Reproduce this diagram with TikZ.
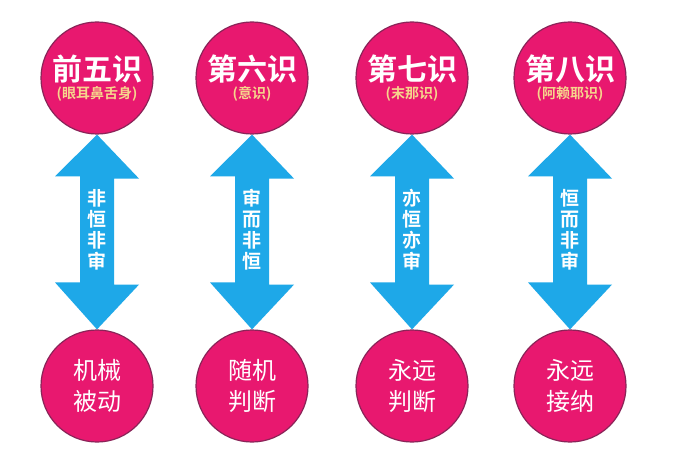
\documentclass[tikz,border=0pt]{standalone}
\usepackage{fontspec}
\newfontfamily\cjk{Noto Sans CJK SC}
\newfontfamily\cjkb{Noto Sans CJK SC Bold}
\definecolor{rosa}{HTML}{E8186F}
\definecolor{borda}{HTML}{8A2458}
\definecolor{azul}{HTML}{1EA8E8}
\definecolor{amarelo}{HTML}{F6D58C}
\tikzset{
  circulo/.style={circle, fill=rosa, draw=borda, line width=1.2pt, minimum size=112pt, inner sep=0pt, align=center, text=white},
  seta/.style={fill=azul, draw=none},
  rotulo/.style={text=white, font=\cjkb\fontsize{19}{21}\selectfont, align=center, inner sep=0pt}
}
\begin{document}
\begin{tikzpicture}[x=1pt,y=-1pt]
    \useasboundingbox[fill=white] (0,0) rectangle (700,470);
    % Circulos de cima e de baixo
    \foreach \x/\nome/\sub/\baixo/\meio [count=\i] in
      {97/前五识/眼耳鼻舌身/机械\\被动/非\\恒\\非\\审,
       252/第六识/意识/随机\\判断/审\\而\\非\\恒,
       412/第七识/末那识/永远\\判断/亦\\恒\\亦\\审,
       570/第八识/阿赖耶识/永远\\接纳/恒\\而\\非\\审} {
        \node[circulo] (c\i) at (\x,78) {{\cjkb\fontsize{30}{32}\selectfont \nome}\\[2pt]
            {\cjkb\fontsize{14}{16}\selectfont\color{amarelo}(\sub)}};
        \node[circulo, font=\cjk\fontsize{24}{31}\selectfont] (b\i) at (\x,386) {\baixo};
        % Seta dupla
        \fill[seta] (c\i.south) -- ++(42,44) -- ++(-25,0) -- ++(0,106) -- ++(25,0)
            -- (b\i.north) -- ++(-42,-47) -- ++(25,0) -- ++(0,-106) -- ++(-25,0) -- cycle;
        \node[rotulo] (m\i) at (\x,230) {\meio};
    }
\end{tikzpicture}
\end{document}
